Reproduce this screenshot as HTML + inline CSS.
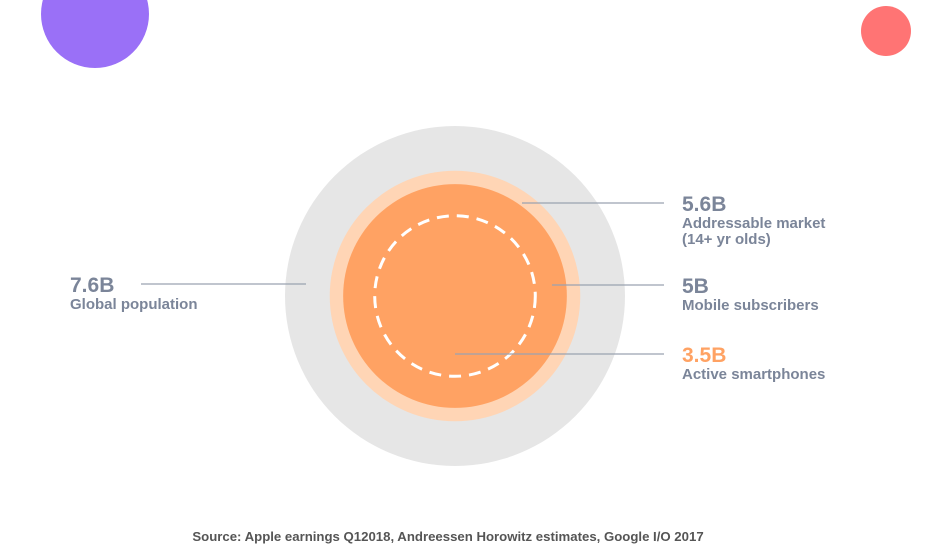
<!DOCTYPE html>
<html><head><meta charset="utf-8"><style>
body{margin:0;background:#fff;font-family:"Liberation Sans",sans-serif}
svg{display:block}
.v{font-weight:bold;font-size:21px;fill:#7b8599}
.l{font-weight:bold;font-size:15px;fill:#7b8599}
</style></head><body>
<svg id="c" width="927" height="558" viewBox="0 0 927 558">
<circle cx="95" cy="14" r="54" fill="#9a70f7"/>
<circle cx="886" cy="31" r="25" fill="#ff7474"/>
<g id="g"></g>
<text x="448" y="541" text-anchor="middle" font-size="13.2" font-weight="bold" fill="#555">Source: Apple earnings Q12018, Andreessen Horowitz estimates, Google I/O 2017</text>
</svg>
<script>
const values=[7.6,5.6,5,3.5];
const valueLabels=["7.6B","5.6B","5B","3.5B"];
const labels=[["Global population"],["Addressable market","(14+ yr olds)"],["Mobile subscribers"],["Active smartphones"]];
const cx=455,cy=296,k=170/7.6;
const r=v=>v*k;
const g=document.getElementById('g');
const NS='http://www.w3.org/2000/svg';
function mk(t,a){const e=document.createElementNS(NS,t);for(const n in a)e.setAttribute(n,a[n]);g.appendChild(e);return e;}
const fills=["#e6e6e6","#ffd5b5","#ffa263",null];
values.forEach((v,i)=>{
  let c;
  if(fills[i]) c=mk('circle',{cx:cx,cy:cy,r:r(v),fill:fills[i]});
  else c=mk('circle',{cx:cx,cy:cy,r:r(v)+2,fill:"none",stroke:"#fff","stroke-width":3,"stroke-dasharray":"12 8"});
  
  
});
const ly=[284,203,285,354];
const ty=[292,211,293,362];
values.forEach((v,i)=>{
  let x1,x2,tx;
  if(i===0){x1=141;x2=306;tx=70;}
  else{x1=i===3?cx:(i===1?522:552);x2=664;tx=682;}
  const ln=mk('line',{x1:x1,x2:x2,y1:ly[i],y2:ly[i],stroke:"#9aa2b1","stroke-width":1.2});
  
  
  const t=mk('text',{x:tx,y:ty[i],class:'v'});
  t.textContent=valueLabels[i];
  if(i===3)t.style.fill="#ffa263";
  
  
  labels[i].forEach((s,j)=>{
    const l=mk('text',{x:tx,y:ty[i]+17+j*16,class:'l'});
    l.textContent=s;
    
    
  });
});
</script>
</body></html>
